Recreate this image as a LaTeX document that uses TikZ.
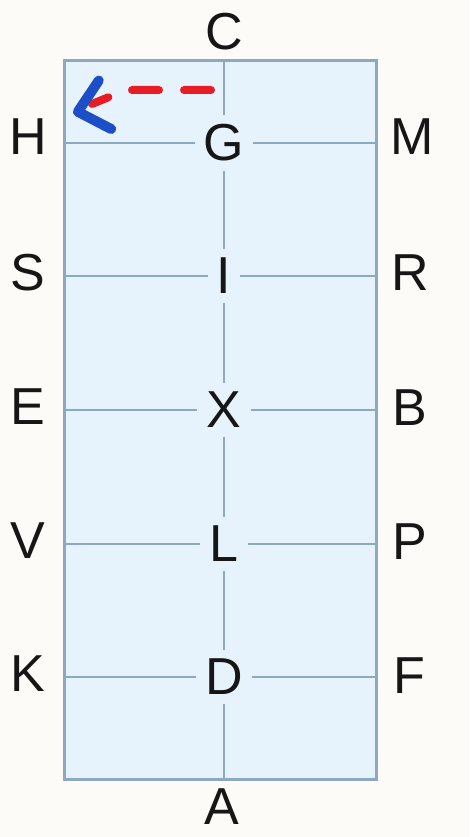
\documentclass[tikz,border=0pt]{standalone}
\usepackage{fontspec}
\setmainfont{Liberation Sans}
\usetikzlibrary{arrows.meta}
\definecolor{paper}{RGB}{252,251,247}
\definecolor{pool}{RGB}{231,243,252}
\definecolor{rule}{RGB}{140,168,194}
\definecolor{ink}{RGB}{22,22,22}
\definecolor{track}{RGB}{232,28,36}
\definecolor{turn}{RGB}{28,78,200}
\tikzset{
  every picture/.style={x=1pt, y=-1pt, font=\fontsize{52}{52}\selectfont},
  letter/.style={text=ink, inner sep=0pt},
  hub/.style={letter, fill=pool, inner sep=9pt},
  rim/.style={draw=rule, line width=3pt, fill=pool},
  grid/.style={draw=rule, line width=2.5pt},
  route/.style={track, line width=8pt, line cap=round, dash pattern=on 27pt off 25pt},
  headonly/.style={tips, -{Straight Barb[color=turn, length=28pt, width=50pt, line width=10pt, round]}},
}

\begin{document}
\begin{tikzpicture}
  \fill[paper] (0,0) rectangle (469,837);
  \useasboundingbox (0,0) rectangle (469,837);
  % the arena
  \coordinate (nw) at (64,61);
  \coordinate (se) at (376,779);
  \draw[rim] (nw) rectangle (se);
  % centre line letters
  \node[letter] (C) at (224,32) {C};
  \node[hub] (G) at (224,143) {G};
  \node[hub] (I) at (224,276) {I};
  \node[hub] (X) at (224,410) {X};
  \node[hub] (L) at (224,544) {L};
  \node[hub] (D) at (224,677) {D};
  \node[letter] (A) at (222,807) {A};
  % long side letters
  \node[letter] (H) at (28,137) {H};
  \node[letter] (S) at (28,273) {S};
  \node[letter] (E) at (28,407) {E};
  \node[letter] (V) at (28,541) {V};
  \node[letter] (K) at (28,674) {K};
  \node[letter] (M) at (412,137) {M};
  \node[letter] (R) at (410,273) {R};
  \node[letter] (B) at (410,408) {B};
  \node[letter] (P) at (410,542) {P};
  \node[letter] (F) at (409,676) {F};
  % grid lines
  \draw[grid] (G |- nw) -- (G) -- (I) -- (X) -- (L) -- (D) -- (D |- se);
  \draw[grid] (nw |- G) -- (G) -- (se |- G);
  \draw[grid] (nw |- I) -- (I) -- (se |- I);
  \draw[grid] (nw |- X) -- (X) -- (se |- X);
  \draw[grid] (nw |- L) -- (L) -- (se |- L);
  \draw[grid] (nw |- D) -- (D) -- (se |- D);
  % the turn
  \coordinate (start) at (211,90);
  \coordinate (bend) at (126,90);
  \coordinate (stop) at (92,104);
  \coordinate (tip) at (73,113);
  \coordinate (aim) at (112,103);
  \draw[route] (start) -- (bend) -- (stop);
  \path[headonly] (aim) -- (tip);
\end{tikzpicture}
\end{document}
